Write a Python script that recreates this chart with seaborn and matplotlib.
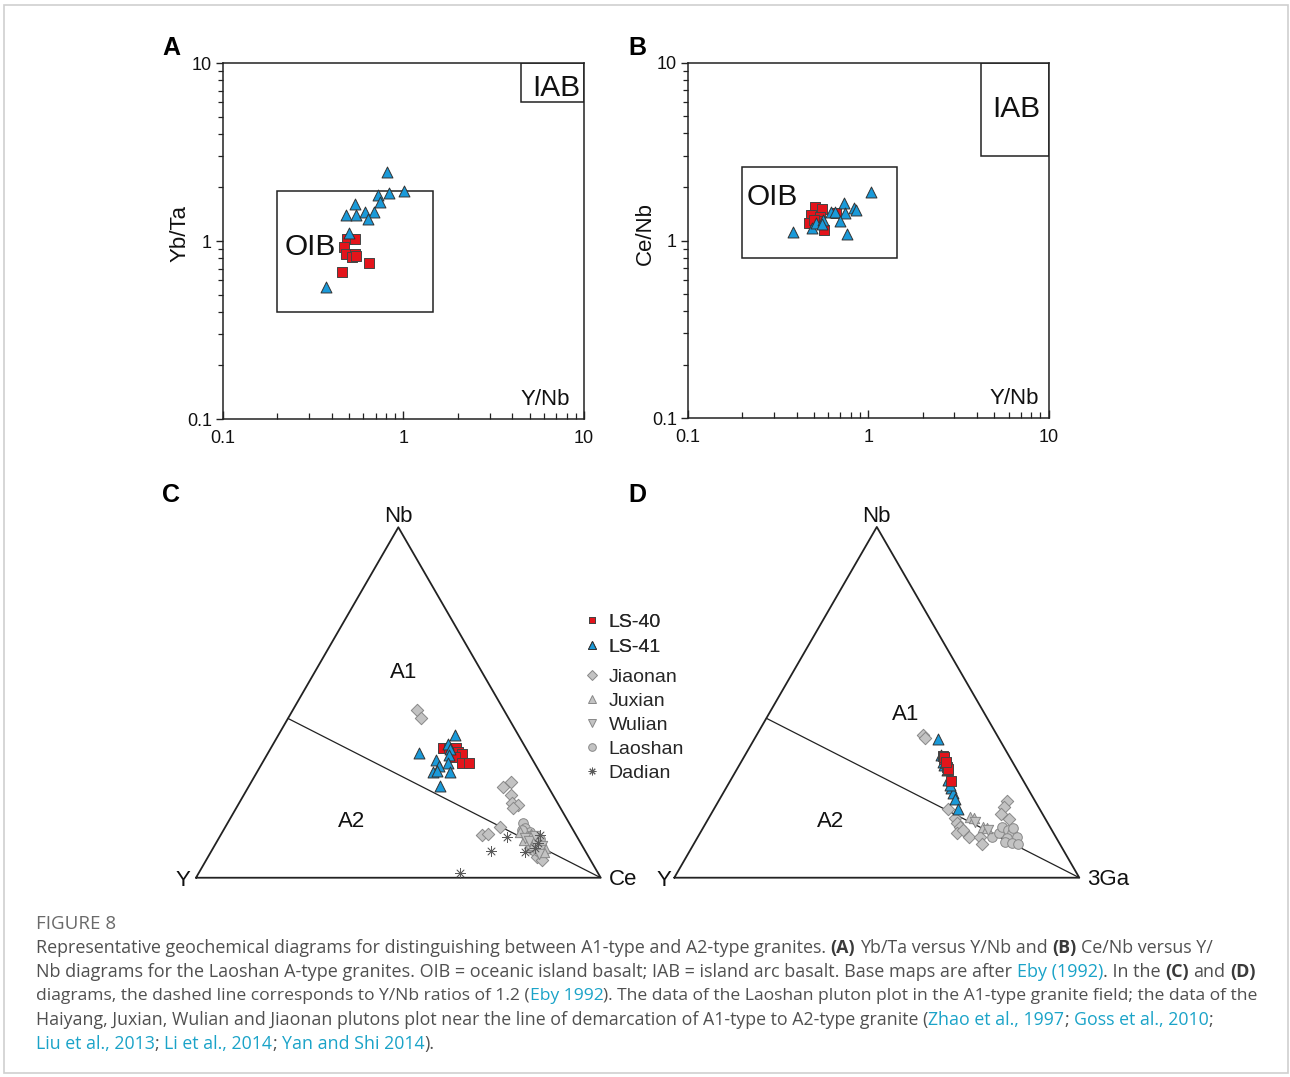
import numpy as np
import pandas as pd
import seaborn as sns
import matplotlib
matplotlib.use("Agg")
import matplotlib.pyplot as plt
from matplotlib import ticker
from matplotlib.lines import Line2D
from matplotlib.patches import Rectangle

# ---------------- data ----------------
# (A) Yb/Ta versus Y/Nb
a_ls40_ynb = [0.489, 0.539, 0.471, 0.481, 0.539, 0.520, 0.548, 0.647, 0.459]
a_ls40_ybta = [1.03, 1.02, 0.92, 0.85, 0.85, 0.81, 0.825, 0.75, 0.67]
a_ls41_ynb = [0.815, 0.718, 0.745, 0.833, 1.01, 0.539, 0.481, 0.548, 0.610, 0.687, 0.637, 0.500, 0.372]
a_ls41_ybta = [2.44, 1.82, 1.65, 1.86, 1.92, 1.62, 1.40, 1.40, 1.45, 1.45, 1.33, 1.11, 0.55]

# (B) Ce/Nb versus Y/Nb
b_ls40_ynb = [0.504, 0.553, 0.481, 0.537, 0.472, 0.530, 0.565, 0.665, 0.500]
b_ls40_cenb = [1.55, 1.50, 1.39, 1.36, 1.26, 1.28, 1.15, 1.42, 1.30]
b_ls41_ynb = [1.04, 0.733, 0.833, 0.851, 0.620, 0.650, 0.743, 0.700, 0.762, 0.382, 0.487, 0.513, 0.561, 0.556]
b_ls41_cenb = [1.87, 1.62, 1.53, 1.48, 1.45, 1.45, 1.42, 1.29, 1.09, 1.11, 1.17, 1.25, 1.30, 1.24]

# Eby (1992) fields: (x0, x1), (y0, y1)
oib_a = [(0.2, 1.45), (0.4, 1.9)]
iab_a = [(4.5, 10), (6, 10)]
oib_b = [(0.2, 1.45), (0.8, 2.6)]
iab_b = [(4.2, 10), (3, 10)]

# (C) Nb - Y - Ce ternary, (Nb, Y, Ce) in %
c_ls40 = [(36.9, 20.5, 42.6), (36.9, 19.0, 44.1), (36.9, 17.3, 45.8), (35.7, 18.7, 45.6),
          (35.9, 17.4, 46.7), (35.2, 16.7, 48.1), (34.5, 18.8, 46.7), (32.8, 17.9, 49.3),
          (32.8, 16.2, 51.0)]
c_ls41 = [(40.7, 15.6, 43.7), (35.5, 27.1, 37.4), (38.1, 18.6, 43.3), (36.6, 19.0, 44.4),
          (33.6, 23.9, 42.5), (35.0, 19.9, 45.1), (32.8, 21.3, 45.9), (31.9, 23.9, 44.2),
          (30.2, 26.3, 43.5), (30.4, 25.3, 44.3), (30.2, 22.1, 47.7), (26.2, 26.6, 47.2)]
c_jiaonan = [(47.8, 21.6, 30.6), (45.6, 21.6, 32.8), (26.0, 11.1, 62.9), (27.2, 8.6, 64.2),
             (23.6, 10.4, 66.0), (21.2, 11.4, 67.4), (20.7, 10.0, 69.3), (19.8, 11.7, 68.5),
             (14.6, 17.6, 67.8), (12.2, 23.3, 64.5), (12.4, 21.6, 66.0), (8.5, 13.2, 78.3),
             (7.1, 12.5, 80.4), (9.4, 10.3, 80.3), (10.2, 12.9, 76.9), (6.0, 12.8, 81.2),
             (6.5, 11.3, 82.2), (5.2, 12.0, 82.8), (7.8, 10.8, 81.4)]
c_juxian = [(13.1, 13.4, 73.5), (11.7, 12.0, 76.3), (10.3, 10.3, 79.4), (8.4, 9.6, 82.0),
            (9.3, 12.1, 78.6), (12.5, 11.0, 76.5), (10.8, 13.6, 75.6), (7.2, 10.4, 82.4)]
c_wulian = [(11.3, 13.1, 75.6), (9.9, 11.3, 78.8), (9.0, 10.0, 81.0), (10.5, 12.5, 77.0),
            (8.0, 11.0, 81.0), (12.0, 10.2, 77.8), (6.8, 11.9, 81.3)]
c_laoshan = [(15.5, 11.4, 73.1), (14.1, 11.6, 74.3), (13.0, 11.0, 76.0), (11.4, 10.5, 78.1),
             (12.0, 12.0, 76.0), (10.0, 11.5, 78.5), (7.5, 11.8, 80.7), (13.6, 12.6, 73.8),
             (9.0, 12.8, 78.2), (11.0, 9.4, 79.6)]
c_dadian = [(11.7, 17.4, 70.9), (12.2, 8.9, 78.9), (7.4, 15.0, 77.6), (7.6, 23.3, 69.1),
            (1.4, 34.1, 64.5), (8.5, 12.0, 79.5), (10.0, 10.5, 79.5)]

# (D) Nb - Y - 3Ga ternary, (Nb, Y, 3Ga) in %
d_ls40 = [(34.7, 16.2, 49.1), (33.8, 16.4, 49.8), (32.6, 16.7, 50.7), (31.7, 16.9, 51.4),
          (30.7, 17.1, 52.2), (27.6, 18.0, 54.4), (34.4, 16.2, 49.4), (31.0, 17.0, 52.0),
          (33.0, 16.5, 50.5)]
d_ls41 = [(39.5, 15.1, 45.4), (33.1, 17.0, 49.9), (30.7, 17.4, 51.9), (27.9, 18.4, 53.7),
          (25.5, 18.9, 55.6), (24.1, 19.2, 56.7), (22.4, 19.5, 58.1), (19.5, 20.1, 60.4),
          (35.0, 16.6, 48.4), (32.1, 17.3, 50.6), (26.5, 18.7, 54.8)]
d_jiaonan = [(40.7, 18.2, 41.1), (39.7, 18.3, 42.0), (19.5, 22.7, 57.8), (16.9, 22.2, 60.9),
             (15.5, 22.5, 62.0), (14.5, 22.2, 63.3), (12.7, 23.9, 63.4), (11.7, 21.5, 66.8),
             (11.5, 18.7, 69.8), (9.6, 19.3, 71.1), (21.9, 6.9, 71.2), (20.1, 8.5, 71.4),
             (18.2, 10.3, 71.5), (16.7, 8.9, 74.4), (13.6, 21.9, 64.5)]
d_juxian = [(17.4, 18.3, 64.3), (16.9, 17.5, 65.6), (14.5, 16.5, 69.0), (14.1, 15.8, 70.1)]
d_wulian = [(15.9, 17.8, 66.3), (13.6, 15.7, 70.7)]
d_laoshan = [(11.7, 15.8, 72.5), (12.7, 13.6, 73.7), (14.5, 11.9, 73.6), (13.6, 10.7, 75.7),
             (12.7, 10.3, 77.0), (11.7, 9.6, 78.7), (11.2, 12.3, 76.5), (10.3, 13.1, 76.6),
             (9.8, 11.8, 78.4), (9.6, 10.3, 80.1), (14.2, 9.3, 76.5)]

y_nb_boundary = 1.2  # A1 / A2 dividing ratio

# ---------------- styles ----------------
RED = "#e3141b"
BLUE = "#1a9ad9"
GREY = "#c3c3c3"
LINE = "#222222"

groups = {
    "LS-40": dict(marker="s", color=RED, edgecolor="#444", s=46, linewidth=0.7),
    "LS-41": dict(marker="^", color=BLUE, edgecolor="#333", s=62, linewidth=0.7),
    "Jiaonan": dict(marker="D", color=GREY, edgecolor="#888", s=40, linewidth=0.7),
    "Juxian": dict(marker="^", color=GREY, edgecolor="#888", s=55, linewidth=0.7),
    "Wulian": dict(marker="v", color=GREY, edgecolor="#888", s=55, linewidth=0.7),
    "Laoshan": dict(marker="o", color=GREY, edgecolor="#888", s=48, linewidth=0.7),
    "Dadian": dict(marker=(8, 2, 0), color="#5a5a5a", s=50, linewidth=0.55),
}

sns.set_theme(style="white")
plt.rcParams["font.family"] = ["Liberation Sans", "DejaVu Sans"]

W, H = 1290, 1077
fig = plt.figure(figsize=(W / 100, H / 100), dpi=100)
fig.patch.set_facecolor("white")


def fx(px):
    return px / W


def fy(py):
    return 1 - py / H


def box(ax, field):
    (x0, x1), (y0, y1) = field
    ax.add_patch(Rectangle((x0, y0), x1 - x0, y1 - y0, fill=False, ec=LINE, lw=1.1, zorder=2))


def style_log(ax):
    ax.set_xscale("log")
    ax.set_yscale("log")
    ax.set_xlim(0.1, 10)
    ax.set_ylim(0.1, 10)
    fmt = ticker.FuncFormatter(lambda v, _: f"{v:g}")
    for axis in (ax.xaxis, ax.yaxis):
        axis.set_major_locator(ticker.LogLocator(base=10, numticks=5))
        axis.set_minor_locator(ticker.LogLocator(base=10, subs=np.arange(2, 10), numticks=20))
        axis.set_major_formatter(fmt)
        axis.set_minor_formatter(ticker.NullFormatter())
    ax.tick_params(axis="x", which="both", direction="in", bottom=True, top=False,
                   labelsize=13, pad=8, color=LINE, labelcolor="#111")
    ax.tick_params(axis="x", which="major", length=6, width=1.0)
    ax.tick_params(axis="x", which="minor", length=4, width=0.9)
    ax.tick_params(axis="y", which="both", direction="out", left=True, right=False,
                   labelsize=13, pad=3, color=LINE, labelcolor="#111")
    ax.tick_params(axis="y", which="major", length=5, width=1.0)
    ax.tick_params(axis="y", which="minor", length=3.5, width=0.9)
    for sp in ax.spines.values():
        sp.set_visible(True)
        sp.set_color(LINE)
        sp.set_linewidth(1.1)
    ax.set_xlabel("")
    ax.set_ylabel("")
    ax.grid(False)


# ---------------- panel A ----------------
ax_a = fig.add_axes([fx(223), fy(419), (584 - 223) / W, (419 - 63) / H])
style_log(ax_a)
box(ax_a, oib_a)
box(ax_a, iab_a)
sns.scatterplot(x=a_ls40_ynb, y=a_ls40_ybta, ax=ax_a, legend=False, zorder=3, **groups["LS-40"])
sns.scatterplot(x=a_ls41_ynb, y=a_ls41_ybta, ax=ax_a, legend=False, zorder=4, **groups["LS-41"])
style_log(ax_a)
ax_a.text(0.303, 0.93, "OIB", fontsize=21.5, ha="center", va="center", color="#111")
ax_a.text(7.0, 7.2, "IAB", fontsize=21.5, ha="center", va="center", color="#111")
ax_a.text(0.892, 0.056, "Y/Nb", transform=ax_a.transAxes, fontsize=16, ha="center", va="center", color="#111")
ax_a.text(-0.119, 0.522, "Yb/Ta", transform=ax_a.transAxes, fontsize=16, rotation=90,
          ha="center", va="center", color="#111")

# ---------------- panel B ----------------
ax_b = fig.add_axes([fx(688), fy(418.3), (1048.5 - 688) / W, (418.3 - 62.7) / H])
style_log(ax_b)
box(ax_b, oib_b)
box(ax_b, iab_b)
sns.scatterplot(x=b_ls40_ynb, y=b_ls40_cenb, ax=ax_b, legend=False, zorder=3, **groups["LS-40"])
sns.scatterplot(x=b_ls41_ynb, y=b_ls41_cenb, ax=ax_b, legend=False, zorder=4, **groups["LS-41"])
style_log(ax_b)
ax_b.text(0.292, 1.76, "OIB", fontsize=21.5, ha="center", va="center", color="#111")
ax_b.text(6.6, 5.5, "IAB", fontsize=21.5, ha="center", va="center", color="#111")
ax_b.text(0.904, 0.057, "Y/Nb", transform=ax_b.transAxes, fontsize=16, ha="center", va="center", color="#111")
ax_b.text(-0.119, 0.521, "Ce/Nb", transform=ax_b.transAxes, fontsize=16, rotation=90,
          ha="center", va="center", color="#111")


# ---------------- ternary panels ----------------
def tern_xy(rows):
    arr = np.asarray(rows, dtype=float)
    arr = arr / arr.sum(axis=1, keepdims=True)
    nb, z = arr[:, 0], arr[:, 2]
    return z + nb / 2, nb * np.sqrt(3) / 2


def ternary_frame(ax, right_label, a1_pos, a2_pos, y_label_x):
    ax.set_xlim(-0.15, 1.15)
    ax.set_ylim(-0.08, 0.95)
    ax.axis("off")
    ax.patch.set_alpha(0)
    tx, ty = tern_xy([(0, 100, 0), (0, 0, 100), (100, 0, 0), (0, 100, 0)])
    ax.plot(tx, ty, color=LINE, lw=1.3, zorder=1)
    lx, ly = tern_xy([(1, y_nb_boundary, 0), (0, 0, 1)])
    ax.plot(lx, ly, color=LINE, lw=0.9, zorder=1)
    ax.text(0.5, np.sqrt(3) / 2, "Nb", fontsize=16, ha="center", va="bottom", color="#111")
    ax.text(y_label_x, -0.008, "Y", fontsize=16, ha="right", va="center", color="#111")
    ax.text(1.02, -0.004, right_label, fontsize=16, ha="left", va="center", color="#111")
    ax.text(*a1_pos, "A1", fontsize=16, ha="center", va="center", color="#111")
    ax.text(*a2_pos, "A2", fontsize=16, ha="center", va="center", color="#111")


def tern_scatter(ax, rows, name, z):
    x, y = tern_xy(rows)
    df = pd.DataFrame({"x": x, "y": y})
    sns.scatterplot(data=df, x="x", y="y", ax=ax, legend=False, zorder=z, **groups[name])
    ax.set_xlabel("")
    ax.set_ylabel("")


ax_c = fig.add_axes([fx(135.3), fy(910.1), 526.1 / W, 416.8 / H])
ternary_frame(ax_c, "Ce", (0.514, 0.506), (0.385, 0.138), -0.015)
tern_scatter(ax_c, c_jiaonan, "Jiaonan", 2)
tern_scatter(ax_c, c_laoshan, "Laoshan", 2)
tern_scatter(ax_c, c_juxian, "Juxian", 2)
tern_scatter(ax_c, c_wulian, "Wulian", 2)
tern_scatter(ax_c, c_dadian, "Dadian", 3)
tern_scatter(ax_c, c_ls40, "LS-40", 4)
tern_scatter(ax_c, c_ls41, "LS-41", 5)
ax_c.axis("off")

ax_d = fig.add_axes([fx(613.55), fy(910.1), 526.5 / W, 417.15 / H])
ternary_frame(ax_d, "3Ga", (0.572, 0.404), (0.385, 0.138), -0.006)
tern_scatter(ax_d, d_jiaonan, "Jiaonan", 2)
tern_scatter(ax_d, d_laoshan, "Laoshan", 2)
tern_scatter(ax_d, d_juxian, "Juxian", 2)
tern_scatter(ax_d, d_wulian, "Wulian", 2)
tern_scatter(ax_d, d_ls41, "LS-41", 4)
tern_scatter(ax_d, d_ls40, "LS-40", 5)
ax_d.axis("off")


# ---------------- legend ----------------
def handle(name, size):
    st = groups[name]
    return Line2D([], [], ls="none", marker=st["marker"], markersize=size,
                  markerfacecolor=st["color"], markeredgecolor=st.get("edgecolor", st["color"]),
                  markeredgewidth=0.7, label=name)


leg_kw = dict(loc="upper left", frameon=False, fontsize=14, handlelength=1.0,
              handletextpad=0.33, borderpad=0, borderaxespad=0)
leg1 = fig.legend(handles=[handle("LS-40", 5), handle("LS-41", 5.5)],
                  bbox_to_anchor=(fx(582.6), fy(613)), labelspacing=0.40, **leg_kw)
fig.add_artist(leg1)
fig.legend(handles=[handle(n, 5.5) for n in ["Jiaonan", "Juxian", "Wulian", "Laoshan", "Dadian"]],
           bbox_to_anchor=(fx(582.6), fy(668.5)), labelspacing=0.33, **leg_kw)

# ---------------- panel letters ----------------
for letter, (px, py) in {"A": (171, 48), "B": (637, 48), "C": (171, 495), "D": (637, 495)}.items():
    fig.text(fx(px), fy(py), letter, fontsize=18, fontweight="bold", ha="center", va="center", color="#000")

# ---------------- caption ----------------
CAP_FONT = ["Open Sans", "DejaVu Sans"]
TXT, LINK, BOLD = "#505050", "#1aa3c8", "#3a3a3a"
caption_lines = [
    [("Representative geochemical diagrams for distinguishing between A1-type and A2-type granites. ", "t"),
     ("(A)", "b"), (" Yb/Ta versus Y/Nb and ", "t"), ("(B)", "b"), (" Ce/Nb versus Y/", "t")],
    [("Nb diagrams for the Laoshan A-type granites. OIB = oceanic island basalt; IAB = island arc basalt. "
      "Base maps are after ", "t"), ("Eby (1992)", "l"), (". In the ", "t"), ("(C)", "b"), (" and ", "t"),
     ("(D)", "b")],
    [("diagrams, the dashed line corresponds to Y/Nb ratios of 1.2 (", "t"), ("Eby 1992", "l"),
     ("). The data of the Laoshan pluton plot in the A1-type granite field; the data of the", "t")],
    [("Haiyang, Juxian, Wulian and Jiaonan plutons plot near the line of demarcation of A1-type to A2-type "
      "granite (", "t"), ("Zhao et al., 1997", "l"), ("; ", "t"), ("Goss et al., 2010", "l"), (";", "t")],
    [("Liu et al., 2013", "l"), ("; ", "t"), ("Li et al., 2014", "l"), ("; ", "t"),
     ("Yan and Shi 2014", "l"), (").", "t")],
]
caption_right = [1215, 1257, 1257, 1210, None]  # where each wrapped line ends in the source

renderer = fig.canvas.get_renderer()


def measure(s, **kw):
    t = fig.text(0, 0, s, **kw)
    w = t.get_window_extent(renderer).width
    t.remove()
    return w


def seg_kw(kind, size):
    return dict(family=CAP_FONT, fontsize=size,
                color={"t": TXT, "l": LINK, "b": BOLD}[kind],
                fontweight="bold" if kind == "b" else "normal")


def layout_line(parts, size, x0, ypx=None):
    sp = measure("a a", family=CAP_FONT, fontsize=size) - measure("aa", family=CAP_FONT, fontsize=size)
    x = x0
    for s, kind in parts:
        kw = seg_kw(kind, size)
        lead = len(s) - len(s.lstrip(" "))
        trail = len(s) - len(s.rstrip(" "))
        core = s.strip(" ")
        x += lead * sp
        if ypx is not None:
            fig.text(fx(x), fy(ypx), core, ha="left", va="center", **kw)
        x += measure(core, **kw) + trail * sp
    return x - x0


sizes = []
for parts, right in zip(caption_lines, caption_right):
    if right is None:
        sizes.append(np.mean(sizes))
    else:
        sizes.append(10 * (right - 36) / layout_line(parts, 10, 36))

fig.text(fx(36), fy(924), "FIGURE 8", family=CAP_FONT, fontsize=13.5, color="#6a6a6a", ha="left", va="center")
for i, (parts, size) in enumerate(zip(caption_lines, sizes)):
    layout_line(parts, size, 36, ypx=948 + 24 * i)

# outer frame
fig.add_artist(Rectangle((fx(4), fy(1073)), (1288 - 4) / W, (1073 - 5) / H, transform=fig.transFigure,
                         fill=False, ec="#cfcfcf", lw=1.2))

fig.savefig("out.png", dpi=100, facecolor="white")
plt.close(fig)
